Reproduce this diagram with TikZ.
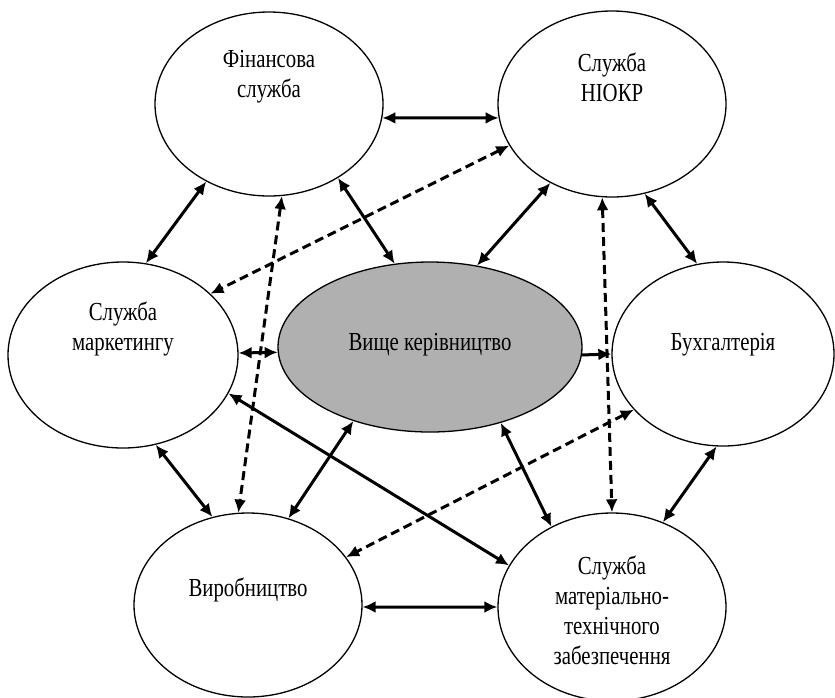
\documentclass[tikz,border=0pt]{standalone}
\usepackage{fontspec}
\setmainfont{Liberation Serif}[FakeStretch=0.8]
\usetikzlibrary{arrows.meta,shapes.geometric}
\begin{document}
\begin{tikzpicture}[x=1pt,y=-1pt,
  ell/.style={draw, ellipse, line width=1.3pt, inner sep=0pt, fill=white},
  lbl/.style={font=\fontsize{26}{30}\selectfont, align=center, inner sep=0pt},
  conn/.style={line width=3pt, {Latex[length=13pt,width=12pt]}-{Latex[length=13pt,width=12pt]}},
  oneway/.style={line width=3pt, -{Latex[length=13pt,width=12pt]}},
  dconn/.style={conn, dash pattern=on 9pt off 5pt}]
\useasboundingbox (0,0) rectangle (835,697);

\node[ell, minimum width=228pt, minimum height=184pt,
  label={[lbl, yshift=27pt]center:Фінансова\\служба}] (fin) at (269,104) {};
\node[ell, minimum width=228pt, minimum height=186pt,
  label={[lbl, yshift=27pt]center:Служба\\НІОКР}] (niokr) at (612,104) {};
\node[ell, minimum width=230pt, minimum height=186pt,
  label={[lbl, yshift=26pt]center:Служба\\маркетингу}] (mark) at (123,355) {};
\node[ell, fill={rgb,255:red,176;green,176;blue,176}, minimum width=304pt, minimum height=170pt,
  label={[lbl, yshift=2pt]center:Вище керівництво}] (top) at (430,347) {};
\node[ell, minimum width=222pt, minimum height=184pt,
  label={[lbl, yshift=9pt]center:Бухгалтерія}] (buh) at (723,354) {};
\node[ell, minimum width=228pt, minimum height=184pt,
  label={[lbl, yshift=15pt]center:Виробництво}] (vyr) at (248,605) {};
\node[ell, minimum width=228pt, minimum height=188pt,
  label={[lbl, yshift=-3pt]center:Служба\\матеріально-\\технічного\\забезпечення}] (mtz) at (612,607) {};

\draw[conn] (fin.-7) -- (niokr.187);
\draw[conn] (fin.-129.5) -- (mark.76.7);
\draw[conn] (fin.-47.6) -- (top.113.5);
\draw[dconn] (fin.-82) -- (vyr.96.2);
\draw[dconn] (niokr.202.7) -- (mark.35.2);
\draw[conn] (niokr.-128.3) -- (top.60.5);
\draw[conn] (niokr.-70.5) -- (buh.106.4);
\draw[dconn] (niokr.-96.1) -- (mtz.90);
\draw[conn] (mark.1) -- (top.182.3);
\draw[oneway] (top.-3) -- (buh.180);
\draw[conn] (mark.-70) -- (vyr.112.9);
\draw[conn] (mark.-20.9) -- (mtz.158.6);
\draw[conn] (top.-136.8) -- (vyr.65.5);
\draw[dconn] (buh.-148.2) -- (vyr.26.3);
\draw[conn] (top.-47.8) -- (mtz.127.8);
\draw[conn] (buh.-94.3) -- (mtz.59);
\draw[conn] (vyr.-1) -- (mtz.180);
\end{tikzpicture}
\end{document}
